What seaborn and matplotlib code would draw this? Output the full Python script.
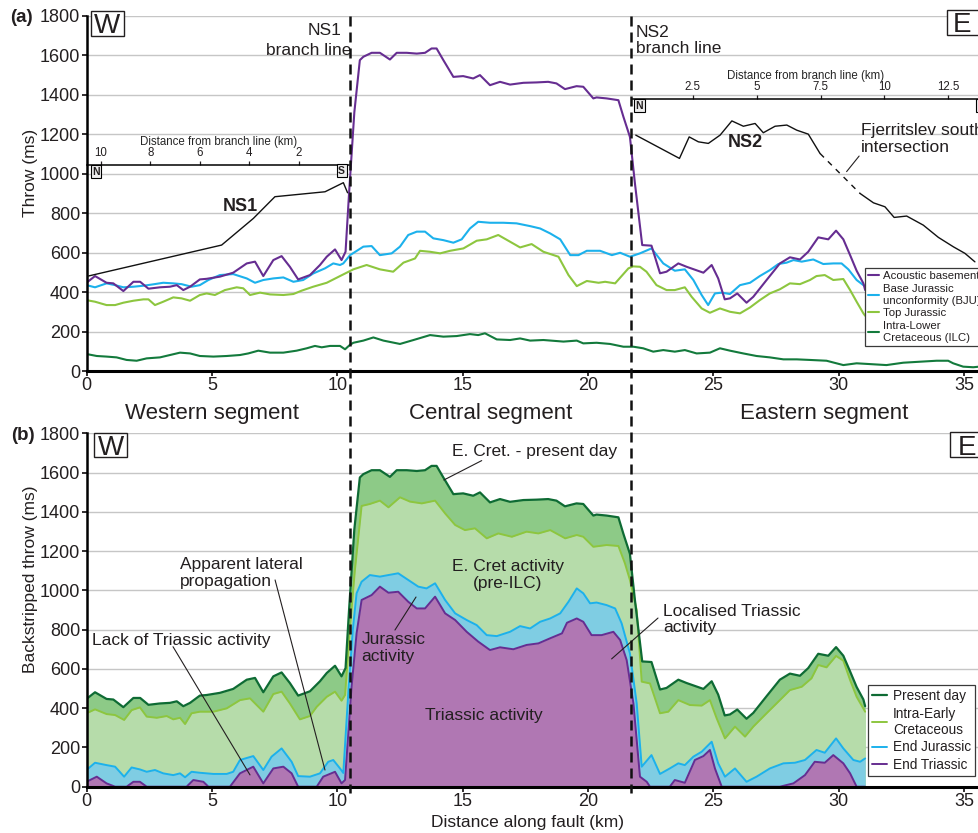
import matplotlib
matplotlib.use("Agg")
import matplotlib.pyplot as plt
from matplotlib.patches import Rectangle
import seaborn as sns

# ---- (a) throw profiles along the fault (km, ms) ----
basement_km = [0.0, 0.34, 0.80, 1.07, 1.47, 1.87, 2.14, 2.47, 2.93, 3.33,
               3.60, 3.86, 4.13, 4.52, 4.79, 5.32, 5.85, 6.39, 6.72, 7.05,
               7.45, 7.78, 8.11, 8.44, 8.91, 9.31, 9.58, 9.91, 10.17, 10.33,
               10.47, 10.68, 10.90, 11.04, 11.37, 11.70, 11.90, 12.10, 12.37, 12.77,
               13.17, 13.50, 13.76, 13.96, 14.23, 14.63, 15.02, 15.42, 15.69, 16.09,
               16.49, 16.89, 17.42, 17.95, 18.41, 18.74, 19.08, 19.54, 19.81, 20.21,
               20.34, 20.74, 21.21, 21.41, 21.67, 21.87, 22.16, 22.53, 22.87, 23.13,
               23.60, 23.93, 24.60, 24.93, 25.19, 25.45, 25.66, 25.95, 26.32, 26.59,
               27.12, 27.65, 28.05, 28.45, 28.78, 29.18, 29.58, 29.89, 30.18, 30.45,
               30.71, 30.98, 31.05]
basement_ms = [447, 481, 447, 444, 405, 452, 452, 417, 424, 427,
               435, 410, 427, 464, 467, 478, 498, 545, 554, 481,
               562, 582, 528, 464, 486, 537, 579, 616, 562, 604,
               900, 1310, 1575, 1592, 1612, 1612, 1595, 1578, 1612, 1612,
               1608, 1612, 1634, 1634, 1575, 1490, 1494, 1482, 1499, 1448,
               1465, 1451, 1460, 1462, 1465, 1457, 1428, 1443, 1440, 1381,
               1386, 1381, 1372, 1288, 1186, 950, 638, 635, 495, 503,
               545, 528, 498, 537, 469, 363, 368, 393, 346, 376,
               461, 545, 576, 565, 604, 677, 667, 711, 667, 587,
               508, 444, 410]

bju_km = [0.0, 0.34, 0.80, 1.14, 1.47, 1.87, 2.27, 2.66, 3.06, 3.46,
          3.79, 4.19, 4.52, 4.86, 5.32, 5.85, 6.39, 6.72, 7.05, 7.45,
          7.85, 8.25, 8.64, 9.04, 9.51, 9.84, 10.11, 10.24, 10.51, 11.04,
          11.37, 11.70, 12.17, 12.50, 12.83, 13.17, 13.50, 13.83, 14.23, 14.63,
          14.96, 15.29, 15.62, 16.09, 16.62, 17.15, 17.69, 18.09, 18.49, 18.89,
          19.29, 19.62, 19.95, 20.48, 20.95, 21.28, 21.67, 22.07, 22.53, 23.00,
          23.46, 23.86, 24.20, 24.53, 24.79, 25.06, 25.33, 25.66, 26.06, 26.46,
          26.85, 27.25, 27.59, 27.92, 28.19, 28.52, 28.98, 29.38, 29.78, 30.11,
          30.38, 30.71, 30.98, 31.05]
bju_ms = [435, 424, 444, 435, 424, 427, 432, 439, 447, 444,
          440, 427, 435, 461, 486, 491, 469, 447, 461, 469,
          474, 452, 461, 494, 520, 545, 537, 545, 587, 630,
          633, 587, 596, 630, 689, 706, 706, 672, 663, 650,
          667, 722, 756, 751, 751, 748, 734, 722, 697, 667,
          587, 587, 609, 609, 587, 599, 579, 596, 621, 545,
          508, 515, 461, 385, 334, 393, 397, 390, 435, 447,
          481, 511, 542, 549, 562, 554, 565, 542, 545, 545,
          515, 461, 435, 430]

tj_km = [0.0, 0.34, 0.80, 1.14, 1.47, 1.87, 2.27, 2.47, 2.73, 3.06,
         3.46, 3.79, 4.13, 4.52, 4.79, 5.12, 5.52, 5.99, 6.25, 6.52,
         6.92, 7.32, 7.85, 8.25, 8.58, 9.04, 9.58, 10.11, 10.64, 11.17,
         11.70, 12.23, 12.64, 13.10, 13.30, 13.70, 14.10, 14.50, 15.03, 15.56,
         15.96, 16.42, 16.89, 17.29, 17.75, 18.22, 18.82, 19.22, 19.55, 19.95,
         20.42, 20.68, 21.08, 21.61, 21.80, 22.07, 22.33, 22.73, 23.13, 23.46,
         23.86, 24.13, 24.53, 24.86, 25.26, 25.66, 26.06, 26.46, 26.85, 27.25,
         27.65, 28.05, 28.45, 28.85, 29.11, 29.44, 29.78, 30.18, 30.45, 30.71,
         30.98, 31.05]
tj_ms = [359, 351, 334, 334, 346, 356, 363, 363, 334, 351,
         373, 368, 356, 385, 393, 385, 410, 424, 419, 385,
         397, 388, 385, 390, 407, 427, 447, 481, 515, 537,
         515, 503, 549, 570, 609, 604, 596, 609, 621, 660,
         667, 689, 655, 626, 643, 604, 579, 486, 430, 456,
         447, 452, 444, 520, 530, 528, 503, 435, 410, 410,
         424, 376, 317, 295, 317, 300, 292, 322, 359, 393,
         414, 444, 440, 461, 481, 486, 461, 466, 410, 351,
         292, 280]

ilc_km = [0.0, 0.41, 0.80, 1.20, 1.60, 2.00, 2.40, 2.93, 3.33, 3.73,
          4.13, 4.52, 5.06, 5.59, 6.12, 6.45, 6.85, 7.32, 7.85, 8.38,
          8.78, 9.11, 9.38, 9.71, 10.11, 10.31, 10.50, 10.64, 11.04, 11.44,
          11.84, 12.50, 13.04, 13.70, 14.23, 14.76, 15.29, 15.62, 15.89, 16.36,
          16.89, 17.29, 17.69, 18.22, 19.02, 19.55, 19.81, 20.34, 20.88, 21.41,
          21.81, 22.20, 22.60, 23.00, 23.46, 23.86, 24.33, 24.86, 25.26, 25.66,
          26.19, 26.72, 27.25, 27.79, 28.32, 28.85, 29.51, 30.18, 30.71, 31.24,
          31.90, 32.57, 33.23, 33.90, 34.36, 34.56, 34.96, 35.36, 35.60]
ilc_ms = [86, 76, 73, 69, 56, 52, 64, 69, 81, 93,
          89, 76, 73, 76, 81, 89, 103, 93, 93, 103,
          115, 127, 120, 127, 127, 110, 132, 143, 154, 170,
          154, 137, 157, 182, 174, 177, 187, 182, 191, 160,
          157, 165, 154, 157, 149, 154, 140, 143, 137, 123,
          123, 115, 98, 106, 98, 106, 89, 93, 115, 103,
          89, 76, 69, 59, 59, 56, 52, 30, 39, 35,
          30, 42, 47, 52, 52, 39, 22, 19, 22]

# branch-line profiles (distance from branch line in km, throw in ms)
ns1_km = [10.50, 5.12, 3.84, 2.97, 0.95, 0.21, 0.04]
ns1_ms = [481, 638, 773, 883, 908, 954, 903]
ns2_km = [0.27, 1.98, 2.36, 2.72, 3.11, 3.57, 4.03, 4.48, 4.94, 5.26,
          5.72, 6.18, 6.57, 7.02, 7.48, 9.04, 9.57, 10.02, 10.38, 10.87,
          11.52, 12.11, 12.70, 13.15, 13.54]
ns2_ms = [1195, 1077, 1186, 1161, 1153, 1195, 1267, 1240, 1254, 1207,
          1240, 1246, 1220, 1200, 1102, 900, 852, 832, 778, 785,
          739, 677, 629, 596, 553]
ns2_gap = 14  # segment 14 -> 15 is dashed (Fjerritslev south intersection)

# ---- (b) backstripped throw ----
present_km, present_ms = basement_km, basement_ms
iec_km = [0.0, 0.34, 0.80, 1.14, 1.50, 1.80, 2.13, 2.40, 2.80, 3.20,
          3.46, 3.73, 3.93, 4.19, 4.52, 5.06, 5.59, 6.12, 6.52, 7.05,
          7.45, 7.78, 8.11, 8.51, 8.91, 9.18, 9.58, 9.91, 10.17, 10.31,
          10.51, 10.70, 10.97, 11.30, 11.70, 12.04, 12.50, 12.90, 13.37, 13.90,
          14.30, 14.70, 15.09, 15.49, 15.96, 16.42, 16.96, 17.55, 18.02, 18.49,
          19.09, 19.55, 19.81, 20.21, 20.74, 21.21, 21.47, 21.67, 21.94, 22.14,
          22.47, 22.87, 23.20, 23.60, 24.06, 24.53, 24.86, 25.13, 25.46, 25.86,
          26.26, 26.59, 27.12, 27.65, 28.05, 28.52, 28.91, 29.18, 29.51, 29.89,
          30.18, 30.45, 30.71, 31.05]
iec_ms = [374, 394, 370, 365, 340, 390, 404, 357, 351, 360,
          343, 351, 319, 374, 382, 382, 399, 441, 450, 382,
          472, 484, 424, 343, 360, 407, 458, 484, 438, 467,
          815, 1100, 1430, 1440, 1457, 1423, 1474, 1452, 1443, 1457,
          1392, 1333, 1307, 1316, 1265, 1290, 1273, 1299, 1290, 1307,
          1265, 1282, 1273, 1222, 1231, 1226, 1138, 1053, 900, 535,
          526, 374, 382, 441, 416, 413, 441, 348, 246, 306,
          255, 306, 374, 441, 492, 509, 552, 620, 608, 666,
          642, 543, 458, 382]

ej_km = [0.0, 0.34, 0.80, 1.14, 1.50, 1.80, 2.13, 2.40, 2.73, 3.06,
         3.46, 3.73, 3.93, 4.19, 4.52, 5.06, 5.59, 5.85, 6.12, 6.65,
         7.05, 7.38, 7.78, 8.18, 8.44, 8.91, 9.31, 9.64, 9.84, 10.11,
         10.24, 10.45, 10.62, 10.77, 10.97, 11.30, 11.70, 12.04, 12.43, 12.83,
         13.23, 13.56, 13.90, 14.30, 14.70, 15.16, 15.56, 15.96, 16.36, 16.89,
         17.29, 17.69, 18.09, 18.49, 18.89, 19.22, 19.55, 19.81, 20.08, 20.34,
         20.74, 21.08, 21.34, 21.67, 21.94, 22.14, 22.53, 22.87, 23.26, 23.60,
         23.86, 24.20, 24.53, 24.93, 25.19, 25.46, 25.86, 26.32, 26.72, 27.25,
         27.79, 28.25, 28.65, 29.11, 29.44, 29.89, 30.18, 30.58, 30.85, 31.05]
ej_ms = [85, 122, 110, 102, 51, 98, 88, 76, 85, 68,
         59, 68, 48, 76, 71, 65, 65, 76, 136, 156,
         85, 153, 195, 127, 54, 51, 68, 127, 136, 93,
         70, 500, 800, 985, 1044, 1078, 1070, 1078, 1087, 1053,
         1019, 1010, 1036, 951, 883, 849, 823, 772, 767, 789,
         818, 806, 840, 857, 883, 942, 1010, 985, 934, 938,
         925, 908, 832, 679, 424, 102, 161, 65, 93, 119,
         110, 153, 178, 229, 119, 51, 93, 25, 51, 93,
         119, 122, 136, 187, 173, 246, 195, 136, 127, 144]

et_km = [0.0, 0.41, 0.80, 1.14, 1.60, 1.87, 2.13, 2.40, 3.99, 4.26,
         4.66, 4.86, 5.72, 6.12, 6.65, 7.05, 7.45, 7.85, 8.18, 8.44,
         9.18, 9.44, 9.91, 10.17, 10.31, 10.57, 10.77, 10.97, 11.37, 11.70,
         12.04, 12.43, 12.83, 13.17, 13.50, 13.90, 14.30, 14.70, 15.16, 15.62,
         16.09, 16.49, 17.02, 17.55, 18.02, 18.49, 18.96, 19.16, 19.55, 19.81,
         20.14, 20.54, 21.01, 21.28, 21.54, 21.81, 22.07, 22.34, 22.47, 23.26,
         23.46, 23.86, 24.26, 24.60, 24.86, 25.06, 25.33, 27.65, 28.19, 28.65,
         29.04, 29.44, 29.78, 30.18, 30.45, 30.71, 31.05]
et_ms = [25, 51, 17, 0, 0, 25, 25, 0, 0, 34,
         25, 0, 0, 68, 102, 17, 93, 102, 68, 0,
         0, 51, 76, 17, 34, 509, 781, 951, 976, 1019,
         988, 993, 942, 908, 908, 968, 883, 849, 789, 739,
         696, 710, 700, 722, 730, 756, 781, 835, 857, 840,
         772, 772, 789, 747, 645, 424, 51, 25, 0, 0,
         34, 20, 136, 156, 187, 93, 0, 0, 17, 59,
         127, 122, 161, 119, 68, 0, 0]

branch_lines_km = [10.51, 21.71]
segments = ["Western segment", "Central segment", "Eastern segment"]
segment_mid_km = [5.0, 16.1, 29.4]

TXT = "#231f20"
c_base, c_bju, c_tj, c_ilc = "#662d91", "#1cb1ec", "#8dc63f", "#137a3c"
f_pd, f_iec, f_ej, f_et = "#8dca87", "#b6dcaa", "#7fcde3", "#b077b3"

sns.set_theme(style="white")
plt.rcParams["font.family"] = ["Liberation Sans", "DejaVu Sans"]
plt.rcParams["text.color"] = TXT

W, H = 979, 833
def fbox(x0, y0, x1, y1):
    return [x0 / W, 1 - y1 / H, (x1 - x0) / W, (y1 - y0) / H]

fig = plt.figure(figsize=(9.79, 8.33), dpi=100, facecolor="white")
ax1 = fig.add_axes(fbox(86.5, 15.7, 979, 371))
ax2 = fig.add_axes(fbox(86.5, 433.3, 979, 786.7))
ax1.set_zorder(2)

for ax in (ax1, ax2):
    ax.set_xlim(0, 35.59)
    ax.set_ylim(0, 1800)
    ax.set_yticks(range(0, 1801, 200))
    ax.set_xticks(range(0, 36, 5))
    ax.yaxis.grid(True, color="#c6c6c6", lw=1.0)
    ax.xaxis.grid(False)
    ax.set_axisbelow(True)
    for s in ("top", "right"):
        ax.spines[s].set_visible(False)
    ax.spines["left"].set_linewidth(1.8)
    ax.spines["bottom"].set_linewidth(2.2)
    ax.spines["left"].set_color("black")
    ax.spines["bottom"].set_color("black")
    ax.tick_params(left=True, bottom=True, length=3.5, width=1.3,
                   labelsize=13, pad=1, colors=TXT)

# ---- panel (a) ----
sns.lineplot(x=ilc_km, y=ilc_ms, ax=ax1, color=c_ilc, lw=1.5, sort=False,
             estimator=None, legend=False, label="Intra-Lower\nCretaceous (ILC)")
sns.lineplot(x=tj_km, y=tj_ms, ax=ax1, color=c_tj, lw=1.5, sort=False,
             estimator=None, legend=False, label="Top Jurassic")
sns.lineplot(x=bju_km, y=bju_ms, ax=ax1, color=c_bju, lw=1.5, sort=False,
             estimator=None, legend=False, label="Base Jurassic\nunconformity (BJU)")
sns.lineplot(x=basement_km, y=basement_ms, ax=ax1, color=c_base, lw=1.5, sort=False,
             estimator=None, legend=False, label="Acoustic basement")
h, l = ax1.get_legend_handles_labels()
leg1 = ax1.legend(h[::-1], l[::-1], loc="upper left", bbox_to_anchor=(865 / W, 1 - 268 / H),
                  bbox_transform=fig.transFigure, borderaxespad=0, fontsize=8.2,
                  handlelength=0.9, handletextpad=0.35, labelspacing=0.24, borderpad=0.3,
                  frameon=True, fancybox=False, edgecolor="#3a3a3a", framealpha=1)
leg1.get_frame().set_linewidth(0.9)
leg1.set_zorder(10)

# NS1 branch-line profile, own distance axis
ins1 = ax1.inset_axes([0.03, 0, 10.44, 1800], transform=ax1.transData)
sns.lineplot(x=ns1_km, y=ns1_ms, ax=ins1, color="#111111", lw=1.0, sort=False,
             estimator=None, legend=False)
ins1.set_xlim(10.54, -0.02)
ins1.set_xticks([10, 8, 6, 4, 2])
ins1.text(10.19, 1010, "N", fontsize=7.5, weight="bold", ha="center", va="center",
          bbox=dict(boxstyle="square,pad=0.15", fc="#eeeeee", ec="black", lw=0.8))
ins1.text(0.28, 1014, "S", fontsize=7.5, weight="bold", ha="center", va="center",
          bbox=dict(boxstyle="square,pad=0.15", fc="#eeeeee", ec="black", lw=0.8))

# NS2 branch-line profile
ins2 = ax1.inset_axes([21.74, 0, 35.59 - 21.74, 1800], transform=ax1.transData)
sns.lineplot(x=ns2_km[:ns2_gap + 1], y=ns2_ms[:ns2_gap + 1], ax=ins2, color="#111111",
             lw=1.0, sort=False, estimator=None, legend=False)
ins2.plot(ns2_km[ns2_gap:ns2_gap + 2], ns2_ms[ns2_gap:ns2_gap + 2], color="#111111",
          lw=1.0, ls=(0, (4, 4)))
sns.lineplot(x=ns2_km[ns2_gap + 1:], y=ns2_ms[ns2_gap + 1:], ax=ins2, color="#111111",
             lw=1.0, sort=False, estimator=None, legend=False)
ins2.set_xlim(0.11, 13.70)
ins2.set_xticks([2.5, 5, 7.5, 10, 12.5])
ins2.set_xticklabels(["2.5", "5", "7.5", "10", "12.5"])
ins2.text(0.41, 1345, "N", fontsize=7.5, weight="bold", ha="center", va="center",
          bbox=dict(boxstyle="square,pad=0.15", fc="#eeeeee", ec="black", lw=0.8))
ins2.text(13.78, 1345, "S", fontsize=7.5, weight="bold", ha="center", va="center",
          bbox=dict(boxstyle="square,pad=0.15", fc="#eeeeee", ec="black", lw=0.8))

for ins, ypos in ((ins1, 1046), (ins2, 1379)):
    ins.set_ylim(0, 1800)
    ins.patch.set_visible(False)
    ins.grid(False)
    ins.set_yticks([])
    ins.set_ylabel("")
    for s in ("left", "right", "bottom"):
        ins.spines[s].set_visible(False)
    ins.spines["top"].set_position(("data", ypos))
    ins.spines["top"].set_linewidth(1.1)
    ins.spines["top"].set_color("black")
    ins.xaxis.set_ticks_position("top")
    ins.tick_params(axis="x", top=True, bottom=False, labeltop=True, labelbottom=False,
                    length=3, width=0.9, labelsize=8.3, pad=1, colors=TXT)
    ins.set_xlabel("Distance from branch line (km)", fontsize=8.3, labelpad=1.5)
    ins.xaxis.set_label_position("top")

ax1.text(6.15, 832, "NS1", fontsize=13, weight="bold", ha="center", va="center")
ax1.text(26.26, 1157, "NS2", fontsize=13, weight="bold", ha="center", va="center")
ax1.text(30.87, 1176, "Fjerritslev south\nintersection", fontsize=12.5,
         ha="left", va="center", linespacing=1.15)
ax1.annotate("", xy=(30.31, 1010), xytext=(30.81, 1089),
             arrowprops=dict(arrowstyle="-", color=TXT, lw=0.8, shrinkA=0, shrinkB=0))
ax1.text(10.18, 1727, "NS1", fontsize=12.5, ha="right", va="center")
ax1.text(10.57, 1625, "branch line", fontsize=12.5, ha="right", va="center")
ax1.text(21.91, 1674, "NS2\nbranch line", fontsize=12.5, ha="left", va="center",
         linespacing=1.15)

ax1.set_ylabel("Throw (ms)", fontsize=12.5, color=TXT)
ax1.yaxis.set_label_coords(-0.054, 0.557)
ax1.set_xlabel("")

for name, xm in zip(segments, segment_mid_km):
    ax1.text(xm, -213, name, fontsize=16, ha="center", va="center")

# branch lines crossing both panels
for xb in branch_lines_km:
    ax1.plot([xb, xb], [1800, -2140], color="#111111", lw=1.8, ls=(0, (4, 2.4)),
             clip_on=False, zorder=6)

# ---- panel (b) ----
ax2.fill_between(present_km, present_ms, 0, color=f_pd, lw=0)
ax2.fill_between(iec_km, iec_ms, 0, color=f_iec, lw=0)
ax2.fill_between(ej_km, ej_ms, 0, color=f_ej, lw=0)
ax2.fill_between(et_km, et_ms, 0, color=f_et, lw=0)
sns.lineplot(x=et_km, y=et_ms, ax=ax2, color=c_base, lw=1.4, sort=False,
             estimator=None, legend=False, label="End Triassic")
sns.lineplot(x=ej_km, y=ej_ms, ax=ax2, color=c_bju, lw=1.4, sort=False,
             estimator=None, legend=False, label="End Jurassic")
sns.lineplot(x=iec_km, y=iec_ms, ax=ax2, color=c_tj, lw=1.4, sort=False,
             estimator=None, legend=False, label="Intra-Early\nCretaceous")
sns.lineplot(x=present_km, y=present_ms, ax=ax2, color="#0e6b34", lw=1.6, sort=False,
             estimator=None, legend=False, label="Present day")
h, l = ax2.get_legend_handles_labels()
leg2 = ax2.legend(h[::-1], l[::-1], loc="upper left", bbox_to_anchor=(868.3 / W, 1 - 685 / H),
                  bbox_transform=fig.transFigure, borderaxespad=0, fontsize=9.8,
                  handlelength=1.1, handletextpad=0.4, labelspacing=0.26, borderpad=0.3,
                  frameon=True, fancybox=False, edgecolor="#3a3a3a", framealpha=1)
leg2.get_frame().set_linewidth(0.9)

ax2.set_ylabel("Backstripped throw (ms)", fontsize=12.5, color=TXT)
ax2.yaxis.set_label_coords(-0.054, 0.586)
ax2.set_xlabel("Distance along fault (km)", fontsize=12.5, color=TXT)
ax2.xaxis.set_label_coords(0.4936, -0.080)

note = dict(fontsize=12.5, color=TXT)
leader = dict(arrowstyle="-", color=TXT, lw=0.8, shrinkA=0, shrinkB=0)
ax2.text(17.88, 1705, "E. Cret. - present day", ha="center", va="center", **note)
ax2.annotate("", xy=(14.25, 1562), xytext=(15.76, 1661), arrowprops=leader)
ax2.text(16.81, 1078, "E. Cret activity\n(pre-ILC)", ha="center", va="center",
         multialignment="center", linespacing=1.15, **note)
ax2.text(10.97, 706, "Jurassic\nactivity", ha="left", va="center", linespacing=1.15, **note)
ax2.annotate("", xy=(12.30, 798), xytext=(13.14, 966), arrowprops=leader)
ax2.text(15.85, 365, "Triassic activity", ha="center", va="center", **note)
ax2.text(22.99, 852, "Localised Triassic\nactivity", ha="left", va="center",
         linespacing=1.15, **note)
ax2.annotate("", xy=(20.94, 651), xytext=(22.79, 859), arrowprops=leader)
ax2.text(3.73, 1089, "Apparent lateral\npropagation", ha="left", va="center",
         linespacing=1.15, **note)
ax2.annotate("", xy=(9.51, 85), xytext=(7.52, 1053), arrowprops=leader)
ax2.text(0.21, 747, "Lack of Triassic activity", ha="left", va="center", **note)
ax2.annotate("", xy=(6.52, 60), xytext=(3.45, 713), arrowprops=leader)

# compass boxes
def corner_box(ax, x0, x1, y0, y1, letter, xc, yb):
    ax.add_patch(Rectangle((x0, y0), x1 - x0, y1 - y0, fc="white", ec=TXT, lw=1.0,
                           clip_on=False, zorder=7))
    ax.text(xc, yb, letter, ha="center", va="baseline", fontsize=20, zorder=8)

corner_box(ax1, 0.17, 1.50, 1698, 1824, "W", 0.83, 1711)
corner_box(ax1, 34.30, 36.2, 1701, 1828, "E", 34.92, 1715)
corner_box(ax2, 0.31, 1.60, 1678, 1803, "W", 0.96, 1690)
corner_box(ax2, 34.43, 36.2, 1678, 1808, "E", 35.10, 1692)

fig.text(10 / W, 1 - 18 / H, "(a)", fontsize=13.5, weight="bold", ha="left", va="center")
fig.text(11 / W, 1 - 436 / H, "(b)", fontsize=13.5, weight="bold", ha="left", va="center")

fig.savefig("out.png", dpi=100, facecolor="white")
